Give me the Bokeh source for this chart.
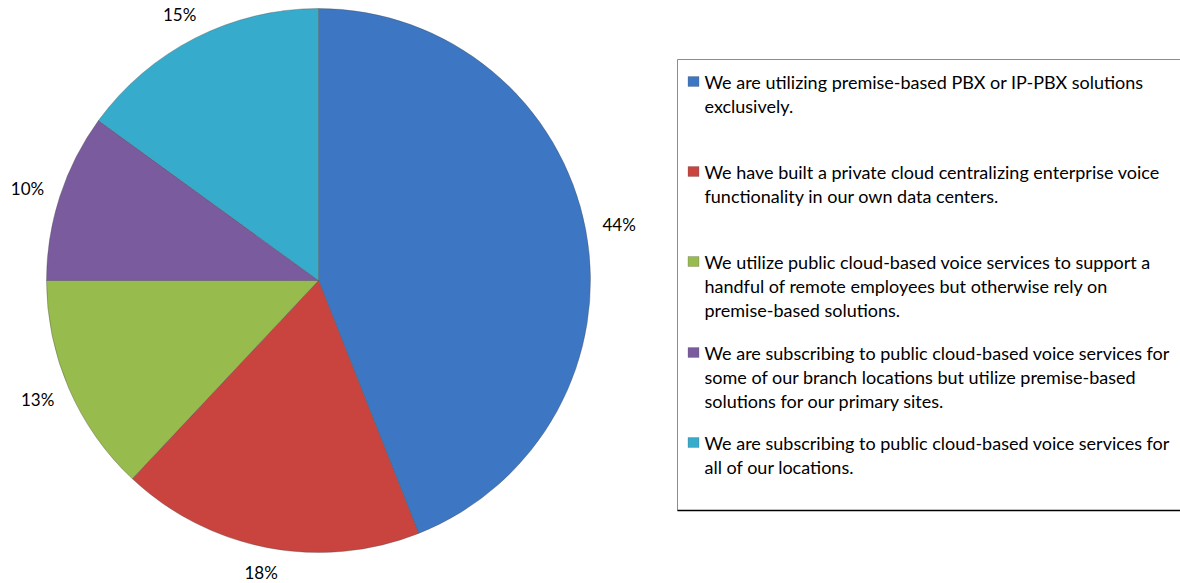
import math
from bokeh.plotting import figure
from bokeh.models import Range1d, ColumnDataSource
from bokeh.embed import file_html
from bokeh.resources import INLINE
from bokeh.core.properties import value

# ---------------- data ----------------
categories = [
    "We are utilizing premise-based PBX or IP-PBX  solutions\nexclusively.",
    "We have built a private cloud centralizing enterprise voice\nfunctionality in our own data centers.",
    "We utilize public cloud-based voice services to support a\nhandful of remote employees but otherwise rely on\npremise-based solutions.",
    "We are subscribing to public cloud-based voice services for\nsome of our branch locations but utilize premise-based\nsolutions for our primary sites.",
    "We are subscribing to public cloud-based voice services for\nall of our locations.",
]
shares = [44, 18, 13, 10, 15]
pct_labels = ["44%", "18%", "13%", "10%", "15%"]
colors = ["#3d77c4", "#c9433f", "#97bb4d", "#7a5b9e", "#37abcc"]

# ---------------- layout ----------------
W, H = 1180, 583
FONT = "Lato"
cx, cy, R = 318, 303, 272
label_rx, label_ry = 306, 299

p = figure(width=W, height=H, x_range=Range1d(0, W), y_range=Range1d(0, H),
           x_axis_type=None, y_axis_type=None, output_backend="svg",
           toolbar_location=None, min_border=0, outline_line_color=None,
           background_fill_color="white", border_fill_color="white")
p.grid.grid_line_color = None

total = float(sum(shares))
starts, ends, mids = [], [], []
c = 0.0
for s in shares:
    a0 = math.pi / 2 - 2 * math.pi * c / total
    c += s
    a1 = math.pi / 2 - 2 * math.pi * c / total
    starts.append(a0)
    ends.append(a1)
    mids.append((a0 + a1) / 2)

pie_src = ColumnDataSource(dict(start=starts, end=ends, color=colors))
p.wedge(x=cx, y=cy, radius=R, start_angle="start", end_angle="end",
        direction="clock", fill_color="color", line_color="#4a4a4a",
        line_alpha=0.35, line_width=1, source=pie_src)

lx = [cx + label_rx * math.cos(m) for m in mids]
ly = [min(max(cy + label_ry * math.sin(m), 11), H - 12) for m in mids]
p.text(x=lx, y=ly, text=pct_labels, text_font=value(FONT),
       text_font_size="17px", text_color="#000000",
       text_align="center", text_baseline="middle")

# ---------------- legend ----------------
box_left, box_top, box_bottom = 677, 524, 73
p.quad(left=[box_left], right=[W + 10], top=[box_top], bottom=[box_bottom],
       fill_color="white", line_color="#8c8c8c", line_width=1)
p.segment(x0=[box_left], y0=[box_bottom], x1=[W + 10], y1=[box_bottom],
          line_color="#000000", line_width=1.5)

item_y = [502, 412, 322, 231, 141]
line_h = 24
p.rect(x=[693] * len(colors), y=item_y, width=11, height=10,
       fill_color=colors, line_color="#555555", line_alpha=0.5, line_width=0.5)

tx, ty, tt = [], [], []
for lab, y0 in zip(categories, item_y):
    for i, line in enumerate(lab.split("\n")):
        tx.append(704)
        ty.append(y0 - i * line_h)
        tt.append(line)
p.text(x=tx, y=ty, text=tt, text_font=value(FONT), text_font_size="18px",
       text_color="#000000", text_align="left", text_baseline="middle")

open("out.html", "w").write(file_html(p, INLINE))
